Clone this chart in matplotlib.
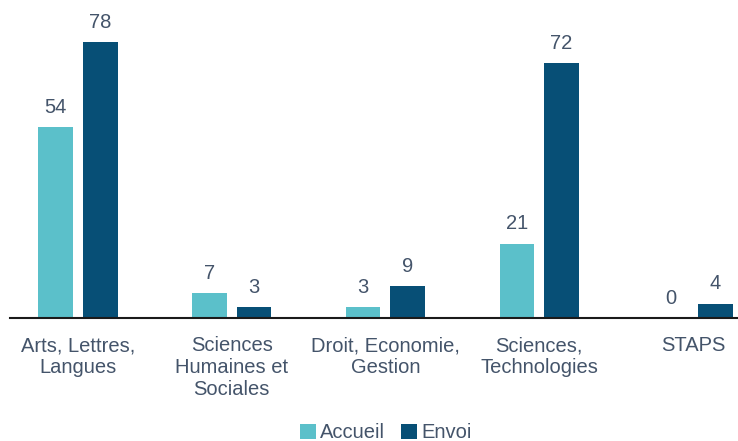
import matplotlib
matplotlib.use("Agg")
import matplotlib.pyplot as plt
import numpy as np

categories = ["Arts, Lettres,\nLangues", "Sciences\nHumaines et\nSociales", "Droit, Economie,\nGestion", "Sciences,\nTechnologies", "STAPS"]
accueil = [54, 7, 3, 21, 0]
envoi = [78, 3, 9, 72, 4]
series_names = ["Accueil", "Envoi"]

c_acc = "#5BC0CA"
c_env = "#074F76"
txt = "#44546A"

plt.rcParams['font.family'] = ['Liberation Sans', 'DejaVu Sans']

fig = plt.figure(figsize=(7.38, 4.41), dpi=100)
ax = fig.add_axes([10/738, 1 - 318/441, 1 - 10/738, 283/441])

x = np.arange(len(categories))
w = 0.225
off = 0.145
b1 = ax.bar(x - off, accueil, w, color=c_acc, label=series_names[0])
b2 = ax.bar(x + off, envoi, w, color=c_env, label=series_names[1])

for bars, vals in ((b1, accueil), (b2, envoi)):
    for r, v in zip(bars, vals):
        ax.annotate(str(v), (r.get_x() + r.get_width()/2, v), xytext=(0, 7.5),
                    textcoords="offset points", ha="center", va="bottom",
                    fontsize=14.5, color=txt)

ax.set_xlim(-0.442, 4.293)
ax.set_ylim(0, 80)
ax.set_xticks(x)
ax.set_xticklabels(categories, fontsize=14.5, color=txt, linespacing=1.2)
ax.tick_params(axis='x', length=0, pad=13)
ax.set_yticks([])
for s in ["top", "right", "left"]:
    ax.spines[s].set_visible(False)
ax.spines["bottom"].set_color("#1a1a1a")
ax.spines["bottom"].set_linewidth(1.5)

leg = fig.legend(handles=[b1, b2], labels=series_names, loc="center",
                 bbox_to_anchor=(386/738, 1 - 433/441), ncol=2, frameon=False,
                 fontsize=14.5, handlelength=0.8, handleheight=0.8,
                 handletextpad=0.2, columnspacing=0.8)
for t in leg.get_texts():
    t.set_color(txt)

fig.savefig("out.png", dpi=100)
